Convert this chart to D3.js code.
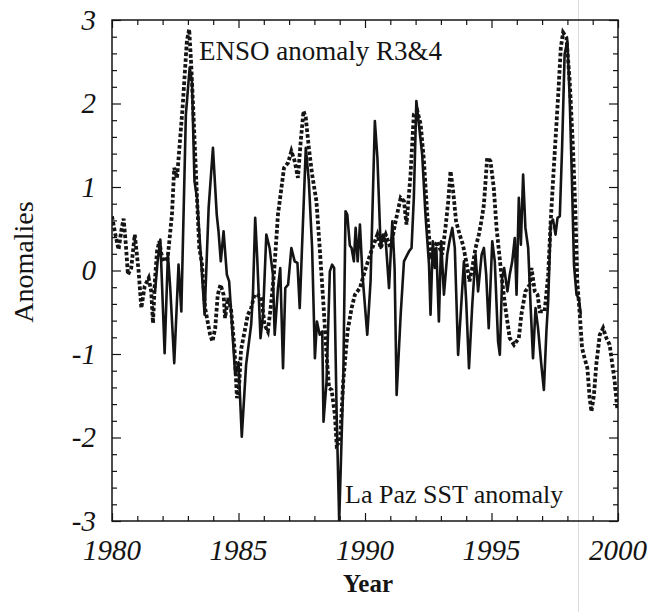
<!DOCTYPE html>
<html>
<head>
<meta charset="utf-8">
<script src="https://cdn.jsdelivr.net/npm/d3@7"></script>
<style>
  html, body { margin: 0; padding: 0; background: #fff; }
  svg { display: block; }
</style>
</head>
<body>
<svg id="chart" width="660" height="612"></svg>
<script>
// ---------------- DATA ----------------
const ensoYears = [1980.00,1980.12,1980.26,1980.38,1980.46,1980.55,1980.63,1980.76,1980.90,1981.05,1981.16,1981.29,1981.45,1981.55,1981.62,1981.70,1981.78,1981.87,1981.95,1982.04,1982.20,1982.37,1982.46,1982.57,1982.79,1982.96,1983.05,1983.13,1983.22,1983.36,1983.45,1983.55,1983.68,1983.88,1983.97,1984.08,1984.18,1984.29,1984.41,1984.47,1984.58,1984.70,1984.84,1984.94,1985.02,1985.10,1985.37,1985.50,1985.63,1985.90,1986.03,1986.16,1986.27,1986.40,1986.56,1986.80,1986.96,1987.09,1987.22,1987.35,1987.46,1987.57,1987.66,1987.78,1987.91,1988.08,1988.21,1988.35,1988.48,1988.58,1988.68,1988.81,1988.88,1989.01,1989.14,1989.31,1989.47,1989.60,1989.80,1990.00,1990.29,1990.49,1990.62,1990.82,1991.01,1991.21,1991.41,1991.54,1991.64,1991.80,1991.93,1992.07,1992.20,1992.33,1992.46,1992.59,1992.72,1992.86,1993.05,1993.18,1993.29,1993.38,1993.47,1993.60,1993.74,1993.87,1994.00,1994.13,1994.24,1994.37,1994.50,1994.60,1994.70,1994.83,1994.96,1995.09,1995.20,1995.39,1995.55,1995.72,1995.89,1996.08,1996.18,1996.34,1996.51,1996.58,1996.71,1996.82,1996.91,1997.10,1997.24,1997.34,1997.47,1997.63,1997.74,1997.83,1997.96,1998.09,1998.22,1998.32,1998.39,1998.49,1998.58,1998.68,1998.79,1998.88,1998.95,1999.05,1999.14,1999.28,1999.41,1999.54,1999.67,1999.76,1999.87,1999.97];
const ensoValues = [0.65,0.45,0.25,0.50,0.62,0.30,-0.05,0.03,0.43,0.00,-0.45,-0.19,-0.09,-0.25,-0.63,-0.10,0.23,0.35,0.20,0.11,0.15,0.67,1.23,1.11,1.95,2.75,2.89,2.47,1.87,0.87,0.27,0.10,-0.45,-0.77,-0.85,-0.69,-0.29,-0.17,-0.29,-0.57,-0.33,-0.45,-0.93,-1.53,-1.40,-0.95,-0.53,-0.45,-0.29,-0.31,-0.65,-0.73,-0.45,-0.05,0.67,1.23,1.29,1.43,1.31,1.11,1.55,1.91,1.83,1.47,1.15,0.83,0.27,-0.37,-1.01,-1.41,-1.43,-1.73,-2.09,-2.05,-1.33,-0.73,-0.45,-0.29,-0.21,0.00,0.27,0.43,0.27,0.43,0.27,0.59,0.87,0.83,0.55,1.15,1.87,1.91,1.75,1.31,0.67,0.19,0.27,0.35,0.19,0.51,0.83,1.19,0.99,0.59,0.43,0.31,0.11,-0.13,0.03,0.27,0.43,0.59,0.79,1.35,1.31,0.99,0.51,-0.05,-0.45,-0.81,-0.89,-0.81,-0.53,-0.25,-0.17,0.03,-0.25,-0.29,-0.49,-0.49,-0.05,0.59,1.27,2.07,2.67,2.85,2.79,2.27,1.47,0.67,-0.13,-0.53,-0.93,-1.05,-1.17,-1.53,-1.69,-1.49,-1.13,-0.77,-0.69,-0.81,-0.89,-1.09,-1.33,-1.65];

const lapazYears = [1981.70,1981.80,1981.91,1982.08,1982.21,1982.30,1982.46,1982.63,1982.74,1982.92,1983.07,1983.16,1983.26,1983.36,1983.49,1983.66,1983.82,1983.99,1984.14,1984.21,1984.30,1984.41,1984.54,1984.63,1984.87,1985.00,1985.13,1985.30,1985.50,1985.57,1985.66,1985.74,1985.87,1985.97,1986.10,1986.23,1986.36,1986.43,1986.56,1986.65,1986.76,1986.85,1986.96,1987.09,1987.22,1987.33,1987.42,1987.55,1987.66,1987.78,1987.91,1988.02,1988.10,1988.21,1988.31,1988.36,1988.48,1988.61,1988.70,1988.78,1988.88,1988.98,1989.14,1989.23,1989.30,1989.40,1989.47,1989.56,1989.63,1989.71,1989.80,1989.90,1990.09,1990.22,1990.39,1990.49,1990.62,1990.71,1990.82,1990.95,1991.08,1991.17,1991.25,1991.41,1991.54,1991.74,1991.84,1991.93,1992.03,1992.13,1992.26,1992.39,1992.53,1992.59,1992.68,1992.76,1992.82,1992.92,1993.01,1993.12,1993.25,1993.34,1993.45,1993.55,1993.68,1993.78,1993.91,1994.00,1994.11,1994.24,1994.37,1994.47,1994.61,1994.70,1994.79,1994.89,1995.03,1995.13,1995.26,1995.33,1995.42,1995.50,1995.63,1995.72,1995.82,1995.92,1995.99,1996.08,1996.16,1996.25,1996.34,1996.45,1996.55,1996.64,1996.74,1996.84,1996.97,1997.07,1997.17,1997.24,1997.34,1997.43,1997.53,1997.61,1997.70,1997.79,1997.89,1998.00,1998.09,1998.18,1998.26,1998.36,1998.45,1998.53];
const lapazValues = [-0.25,0.10,0.37,-0.99,0.19,-0.20,-1.11,0.07,-0.49,1.87,2.43,2.27,1.07,0.87,0.27,-0.53,0.75,1.47,0.67,0.47,0.11,0.47,-0.05,-0.13,-1.25,-1.10,-1.99,-1.13,-0.65,-0.29,0.63,0.15,-0.81,-0.53,0.43,0.27,-0.05,-0.77,-0.21,0.03,-1.17,-0.21,-0.17,0.27,0.11,0.09,-0.45,0.59,1.47,1.07,0.27,-1.05,-0.61,-0.77,-0.73,-1.81,-1.33,-0.01,0.07,0.03,-1.73,-3.00,-1.33,0.71,0.67,0.30,0.27,0.11,0.51,0.11,0.55,-0.05,-0.77,-0.13,1.79,1.35,0.27,0.43,0.35,-0.21,0.59,0.03,-1.49,-0.53,0.11,0.23,0.27,0.87,2.03,1.75,1.39,0.67,0.07,-0.53,0.35,0.03,0.27,-0.61,0.35,-0.29,0.19,0.35,0.51,0.27,-1.01,-0.53,0.11,-0.37,-1.17,-0.41,0.19,-0.25,0.19,0.27,-0.05,-0.69,0.35,0.11,-0.85,-1.01,-0.09,0.03,-0.25,-0.05,0.11,0.39,-0.29,0.87,0.31,1.15,0.51,0.27,-0.45,-1.05,-0.45,-0.69,-1.13,-1.43,-0.73,-0.37,0.57,0.61,0.43,0.63,0.65,1.47,2.59,2.75,2.07,1.07,0.07,-0.29,-0.33,-0.53];

const xTickLabels = [1980, 1985, 1990, 1995, 2000];
const yTickLabels = [3, 2, 1, 0, -1, -2, -3];
const ensoLabel = "ENSO anomaly R3&4";
const lapazLabel = "La Paz SST anomaly";
const xTitle = "Year";
const yTitle = "Anomalies";

// ---------------- LAYOUT ----------------
const L = 112, R = 618, T = 20, B = 521;
const svg = d3.select("#chart");
const x = d3.scaleLinear().domain([1980, 2000]).range([L, R]);
const y = d3.scaleLinear().domain([-3, 3]).range([B, T]);
const ink = "#141414";
const serif = "Liberation Serif";

// faint scan column line
svg.append("line").attr("x1", 578.5).attr("x2", 578.5).attr("y1", 0).attr("y2", 612)
  .attr("stroke", "#dcdcdc").attr("stroke-width", 1);

svg.append("clipPath").attr("id", "clip").append("rect")
  .attr("x", L).attr("y", T).attr("width", R - L).attr("height", B - T);

const lineGen = d3.line().x(d => x(d[0])).y(d => y(d[1])).curve(d3.curveLinear);
const ensoData = ensoYears.map((yr, i) => [yr, ensoValues[i]]);
const lapazData = lapazYears.map((yr, i) => [yr, lapazValues[i]]);

const g = svg.append("g").attr("clip-path", "url(#clip)");
g.append("path").datum(lapazData).attr("d", lineGen)
  .attr("fill", "none").attr("stroke", ink).attr("stroke-width", 2.6)
  .attr("stroke-linejoin", "round");
g.append("path").datum(ensoData).attr("d", lineGen)
  .attr("fill", "none").attr("stroke", ink).attr("stroke-width", 3.8)
  .attr("stroke-dasharray", "3.6,2.2");

// axes (ticks inward on all four sides)
const yearTicks = d3.range(1980, 2001, 1);
const minorY = d3.range(-3, 3.001, 0.2).map(v => Math.round(v * 10) / 10);
function addAxis(axisFn, scale, values, transform, isMajor, majorLen, minorLen) {
  const a = svg.append("g").attr("transform", transform)
    .call(axisFn(scale).tickValues(values).tickFormat("").tickSizeOuter(0).tickSizeInner(-minorLen));
  a.select(".domain").remove();
  a.selectAll(".tick line").attr("stroke", ink).attr("stroke-width", 1.2)
    .each(function(d) {
      if (isMajor(d)) {
        const ln = d3.select(this);
        if (ln.attr("y2") !== null) ln.attr("y2", +ln.attr("y2") < 0 ? -majorLen : majorLen);
        if (ln.attr("x2") !== null) ln.attr("x2", +ln.attr("x2") < 0 ? -majorLen : majorLen);
      }
    });
}
const isMajorYear = d => d % 5 === 0;
const isMajorV = d => Math.abs(d - Math.round(d)) < 1e-6;
addAxis(d3.axisBottom, x, yearTicks, `translate(0,${B})`, isMajorYear, 8, 5);
addAxis(d3.axisTop, x, yearTicks, `translate(0,${T})`, isMajorYear, 8, 5);
addAxis(d3.axisLeft, y, minorY, `translate(${L},0)`, isMajorV, 9, 5);
addAxis(d3.axisRight, y, minorY, `translate(${R},0)`, isMajorV, 9, 5);

// frame
svg.append("rect").attr("x", L).attr("y", T).attr("width", R - L).attr("height", B - T)
  .attr("fill", "none").attr("stroke", ink).attr("stroke-width", 1.5);

// tick labels
svg.append("g").selectAll("text").data(xTickLabels).join("text")
  .attr("x", d => x(d)).attr("y", 560)
  .attr("text-anchor", "middle")
  .style("font-family", serif).style("font-style", "italic").style("font-size", "29px")
  .attr("fill", ink).text(d => d);
svg.append("g").selectAll("text").data(yTickLabels).join("text")
  .attr("x", 96).attr("y", d => y(d)).attr("dy", "0.34em")
  .attr("text-anchor", "end")
  .style("font-family", serif).style("font-style", "italic").style("font-size", "29px")
  .attr("fill", ink).text(d => d);

// titles
svg.append("text").attr("x", 368).attr("y", 592).attr("text-anchor", "middle")
  .style("font-family", serif).style("font-weight", "bold").style("font-size", "25px")
  .attr("fill", ink).text(xTitle);
svg.append("text").attr("transform", "translate(33,262) rotate(-90)").attr("text-anchor", "middle")
  .style("font-family", serif).style("font-size", "28px")
  .attr("fill", ink).text(yTitle);

// annotations
svg.append("text").attr("x", 199).attr("y", 60)
  .style("font-family", serif).style("font-size", "27px")
  .attr("fill", ink).text(ensoLabel);
svg.append("text").attr("x", 345).attr("y", 503)
  .style("font-family", serif).style("font-size", "26px")
  .attr("fill", ink).text(lapazLabel);
</script>
</body>
</html>
